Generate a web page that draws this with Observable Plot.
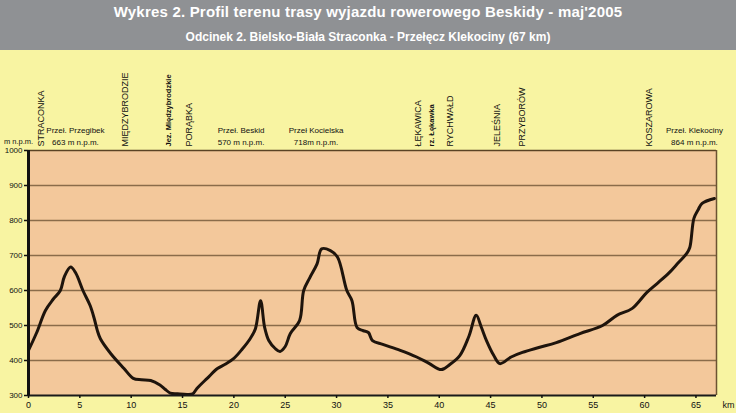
<!DOCTYPE html>
<html>
<head>
<meta charset="utf-8">
<script src="https://cdn.jsdelivr.net/npm/d3@7"></script>
<script src="https://cdn.jsdelivr.net/npm/@observablehq/plot@0.6"></script>
<style>
  html, body { margin: 0; padding: 0; }
  body { width: 736px; height: 413px; overflow: hidden; background: #f8f4a2;
         font-family: "Liberation Sans Narrow", "Arial Narrow", "Liberation Sans", Arial, sans-serif; }
  #header { height: 50px; background: #8f9194; color: #fff; font-weight: bold; text-align: center; position: relative; }
  #title { position: absolute; left: 0; right: 0; top: 3px; font-size: 15px; letter-spacing: 0.2px; }
  #subtitle { position: absolute; left: 0; right: 0; top: 30px; font-size: 12px; }
  #chart svg { display: block; }
</style>
</head>
<body>
<div id="header">
  <div id="title">Wykres 2. Profil terenu trasy wyjazdu rowerowego Beskidy - maj'2005</div>
  <div id="subtitle">Odcinek 2. Bielsko-Biała Straconka - Przełęcz Klekociny (67 km)</div>
</div>
<div id="chart"></div>
<script>
// distance along route (km) and altitude (m n.p.m.)
const km = [0,0.8,1.65,2.4,3.1,3.5,4.1,4.6,5.3,6.0,6.4,6.7,7.0,8.0,9.3,10.2,11.0,11.9,12.8,13.3,13.8,14.5,15.5,16.0,16.4,17.4,18.4,19.2,20.0,20.8,21.6,22.1,22.6,23.0,23.4,24.0,24.5,25.0,25.5,26.4,26.8,27.4,28.1,28.55,29.4,30.1,31.0,31.5,32.0,32.6,33.1,33.5,34.5,36.2,37.8,39.0,40.2,41.0,42.0,42.9,43.6,44.1,44.6,45.3,45.9,47.0,48.1,49.7,51.4,53.7,55.9,57.3,58.8,60.2,61.3,62.4,63.3,64.1,64.4,64.8,65.2,65.6,66.8];
const alt = [429,480,543,575,600,640,667,650,600,557,520,486,462,420,377,349,345,343,330,318,307,305,303,305,320,349,377,390,406,432,463,491,571,494,457,435,426,440,477,514,600,637,676,719,714,695,600,571,494,485,480,457,446,429,410,392,374,388,414,470,529,495,457,415,391,410,423,437,451,477,500,529,549,594,622,651,680,706,723,806,830,849,863];

const townNames = ["STRACONKA","MIĘDZYBRODZIE","Jez. Międzybrodzkie","PORĄBKA","ŁĘKAWICA","rz. Łękawka","RYCHWAŁD","JELEŚNIA","PRZYBORÓW","KOSZAROWA"];
const townKm = [1.26,9.43,13.6,15.65,37.9,39.3,41.1,45.6,48.1,60.4];
const townSmall = [false,false,true,false,false,true,false,false,false,false];

const passNames = ["Przeł. Przegibek\n663 m n.p.m.","Przeł. Beskid\n570 m n.p.m.","Przeł Kocielska\n718m n.p.m.","Przeł. Klekociny\n864 m n.p.m."];
const passKm = [4.57,20.7,28.0,64.85];

const xTicks = [0,5,10,15,20,25,30,35,40,45,50,55,60,65];
const yTicks = [300,400,500,600,700,800,900,1000];
const gridTicks = [400,500,600,700,800,900];

const profile = km.map((k,i) => ({km:k, alt:alt[i]}));
const towns = townNames.map((n,i) => ({name:n, km:townKm[i], small:townSmall[i]}));
const passes = passNames.map((n,i) => ({name:n, km:passKm[i]}));

const chart = Plot.plot({
  width: 736,
  height: 363,
  marginTop: 100,
  marginBottom: 18,
  marginLeft: 28,
  marginRight: 20,
  style: {background: "transparent", fontFamily: "'Liberation Sans Narrow','Arial Narrow','Liberation Sans',Arial,sans-serif", color: "#111", overflow: "visible"},
  x: {domain: [0, 67]},
  y: {domain: [300, 1000]},
  marks: [
    Plot.frame({fill: "#f3c89b", stroke: null}),
    Plot.ruleY(gridTicks, {stroke: "#8a6c4a", strokeWidth: 1.5}),
    Plot.line(profile, {x: "km", y: "alt", stroke: "#1e140c", strokeWidth: 3, curve: "catmull-rom"}),
    Plot.ruleY([1000], {stroke: "#5a4324", strokeWidth: 1.5}),
    Plot.ruleX([67], {stroke: "#6b5332", strokeWidth: 1.5}),
    Plot.ruleY([300], {stroke: "#1a1a1a", strokeWidth: 2}),
    Plot.ruleX([0], {stroke: "#111", strokeWidth: 3}),
    Plot.axisX({ticks: xTicks, tickSize: 3, tickPadding: 3, fontSize: 9, label: null, strokeWidth: 1.5, tickFormat: d => String(d)}),
    Plot.axisY({ticks: yTicks, tickSize: 4, tickPadding: 2, fontSize: 8, label: null, strokeWidth: 1.5, tickFormat: d => String(d)}),
    Plot.text(towns.filter(d => !d.small), {x: "km", y: () => 1000, text: "name", rotate: -90, textAnchor: "start", dy: -4, fontSize: 9, fill: "#111", style: "letter-spacing:1.2px"}),
    Plot.text(towns.filter(d => d.small), {x: "km", y: () => 1000, text: "name", rotate: -90, textAnchor: "start", dy: -4, fontSize: 7.5, fontWeight: "bold", fill: "#111"}),
    Plot.text(passes, {x: "km", y: () => 1000, text: "name", lineAnchor: "bottom", dy: -6, fontSize: 8, lineHeight: 1.45, fill: "#111"}),
    Plot.text(["m n.p.m."], {frameAnchor: "top-left", textAnchor: "middle", dx: -10, dy: -12, fontSize: 7.5, fill: "#111"}),
    Plot.text(["km"], {frameAnchor: "bottom-right", textAnchor: "middle", dx: 12, dy: 12, fontSize: 9, fill: "#111"})
  ]
});
document.getElementById("chart").appendChild(chart);
</script>
</body>
</html>
